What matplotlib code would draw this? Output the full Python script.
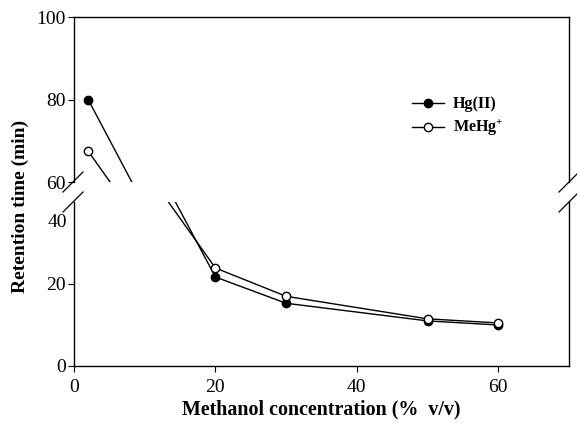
import matplotlib
matplotlib.use("Agg")
import matplotlib.pyplot as plt
from matplotlib.lines import Line2D

plt.rcParams['font.family'] = ['Liberation Serif', 'DejaVu Serif']
plt.rcParams['mathtext.fontset'] = 'custom'
plt.rcParams['mathtext.rm'] = 'Liberation Serif:bold'
plt.rcParams['mathtext.bf'] = 'Liberation Serif:bold'

# data
methanol = [2, 20, 30, 50, 60]
hg2 = [80.0, 21.7, 15.3, 11.0, 10.0]
mehg = [67.5, 23.9, 17.0, 11.5, 10.5]

W, H = 577, 424
fig = plt.figure(figsize=(W / 100, H / 100), dpi=100)

def fx(px):
    return px / W

def fy(py):
    return 1 - py / H

left, right = fx(74), fx(569)
ax_top = fig.add_axes([left, fy(182), right - left, fy(17) - fy(182)])
ax_bot = fig.add_axes([left, fy(366), right - left, fy(202) - fy(366)])

for ax in (ax_top, ax_bot):
    ax.plot(methanol, hg2, '-o', color='black', lw=1.0, ms=6,
            mfc='black', mec='black', label='Hg(II)')
    ax.plot(methanol, mehg, '-o', color='black', lw=1.0, ms=6,
            mfc='white', mec='black', mew=1.0, label='MeHg$^{+}$')
    ax.set_xlim(0, 70)
    for s in ax.spines.values():
        s.set_linewidth(1.0)
    ax.tick_params(direction='out', length=4, width=0.8, labelsize=14, pad=2)

ax_top.set_ylim(60, 100)
ax_top.set_yticks([60, 80, 100])
ax_top.spines['bottom'].set_visible(False)
ax_top.set_xticks([])

ax_bot.set_ylim(0, 40)
ax_bot.set_yticks([0, 20])
ax_bot.spines['top'].set_visible(False)
ax_bot.set_xticks([0, 20, 40, 60])
ax_bot.tick_params(axis='x', pad=5)
ax_bot.annotate('40', xy=(0, 40), xycoords=('axes fraction', 'data'),
                xytext=(-5, -15), textcoords='offset points',
                ha='right', va='center', fontsize=14)

ax_bot.set_xlabel('Methanol concentration (%  v/v)', fontsize=14.4,
                  fontweight='bold', labelpad=3)
fig.text(fx(20), fy(206), 'Retention time (min)', rotation=90,
         fontsize=14, fontweight='bold', ha='center', va='center')

# axis break marks
for x0 in (63, 559):
    for yc in (182, 202):
        fig.add_artist(Line2D([fx(x0), fx(x0 + 20)], [fy(yc + 10), fy(yc - 10)],
                              color='black', lw=0.9, transform=fig.transFigure))

leg = ax_top.legend(loc='upper left', bbox_to_anchor=(fx(398), fy(82)),
                    bbox_transform=fig.transFigure, frameon=False, numpoints=1,
                    handlelength=2.0, handletextpad=0.55, labelspacing=0.3,
                    prop={'family': 'Liberation Serif', 'weight': 'bold', 'size': 11.5})

fig.savefig('out.png', dpi=100)
